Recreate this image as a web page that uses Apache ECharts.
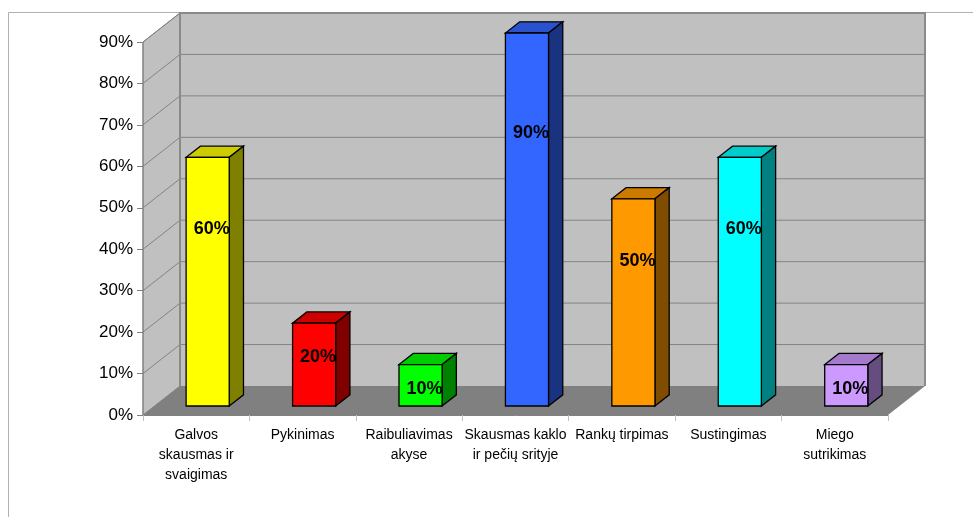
<!DOCTYPE html>
<html>
<head>
<meta charset="utf-8">
<script src="https://cdn.jsdelivr.net/npm/echarts@6/dist/echarts.min.js"></script>
<style>
  html, body { margin: 0; padding: 0; background: #fff; }
  #chart { width: 973px; height: 517px; }
</style>
</head>
<body>
<div id="chart"></div>
<script>
// Symptom names shown under the floor of the 3D column chart
const categories = [
  'Galvos\nskausmas ir\nsvaigimas',
  'Pykinimas',
  'Raibuliavimas\nakyse',
  'Skausmas kaklo\nir pečių srityje',
  'Rankų tirpimas',
  'Sustingimas',
  'Miego\nsutrikimas'
];
// Share of respondents, percent
const values = [60, 20, 10, 90, 50, 60, 10];

// Face colours of each column: front, top, right side
const frontColors = ['#ffff00', '#ff0000', '#00ff00', '#3366ff', '#ff9900', '#00ffff', '#cc99ff'];
const topColors   = ['#cccc00', '#cc0000', '#00cc00', '#2952cc', '#cc7a00', '#00cccc', '#a37acc'];
const sideColors  = ['#808000', '#800000', '#008000', '#1a3380', '#804d00', '#008080', '#664d80'];

// Value axis
const yMax = 90;
const yStep = 10;

// Oblique projection of the depth axis (pixels for full depth)
const DX = 37;
const DY = -29;
const FRONT = 0.31;   // where the column front sits inside the depth
const DEPTH = 0.385;  // column depth as a share of the full depth
const FONT = 'Liberation Sans, Arial, sans-serif';

const chart = echarts.init(document.getElementById('chart'));

function renderFrame(params, api) {
  const cs = params.coordSys;
  const L = cs.x, R = cs.x + cs.width;
  const yTop = cs.y, yBot = cs.y + cs.height;
  const children = [];
  // left side wall
  children.push({
    type: 'polygon',
    shape: { points: [[L, yTop], [L + DX, yTop + DY], [L + DX, yBot + DY], [L, yBot]] },
    style: { fill: '#c0c0c0', stroke: '#808080', lineWidth: 1 }
  });
  // back wall
  children.push({
    type: 'rect',
    shape: { x: L + DX, y: yTop + DY, width: R - L, height: yBot - yTop },
    style: { fill: '#c0c0c0', stroke: null }
  });
  // floor
  children.push({
    type: 'polygon',
    shape: { points: [[L, yBot], [R, yBot], [R + DX, yBot + DY], [L + DX, yBot + DY]] },
    style: { fill: '#808080', stroke: null }
  });
  // gridlines on the side wall and the back wall
  for (let v = yStep; v <= yMax; v += yStep) {
    const y = api.coord([0, v])[1];
    children.push({
      type: 'line',
      shape: { x1: L, y1: y, x2: L + DX, y2: y + DY },
      style: { stroke: '#848484', lineWidth: 1 }
    });
    children.push({
      type: 'line',
      shape: { x1: L + DX, y1: y + DY, x2: R + DX, y2: y + DY },
      style: { stroke: '#848484', lineWidth: 1 }
    });
  }
  // wall edges
  children.push({
    type: 'polyline',
    shape: { points: [[L + DX, yBot + DY], [L + DX, yTop + DY], [R + DX, yTop + DY], [R + DX, yBot + DY]] },
    style: { stroke: '#8a8a8a', lineWidth: 2, fill: null }
  });
  children.push({
    type: 'line',
    shape: { x1: L, y1: yBot, x2: L, y2: yTop },
    style: { stroke: '#808080', lineWidth: 1 }
  });
  return { type: 'group', children: children };
}

function renderBar(params, api) {
  const i = api.value(0);
  const v = api.value(1);
  const bw = api.size([1, 0])[0];
  const top = api.coord([i, v]);
  const base = api.coord([i, 0]);
  const w = bw * 0.405;
  const fx = DX * FRONT, fy = DY * FRONT;
  const bx = DX * DEPTH, by = DY * DEPTH;
  const x0 = top[0] + fx - w / 2, x1 = x0 + w;
  const yt = top[1] + fy, yb = base[1] + fy;
  // value label sits a little below the middle-upper part of the column
  const lab = api.coord([i, v * 0.77 - 3.5]);
  const edge = { stroke: '#000', lineWidth: 1.3, lineJoin: 'miter' };
  return {
    type: 'group',
    children: [
      {
        type: 'polygon',
        shape: { points: [[x0, yt], [x1, yt], [x1 + bx, yt + by], [x0 + bx, yt + by]] },
        style: Object.assign({ fill: topColors[i] }, edge)
      },
      {
        type: 'polygon',
        shape: { points: [[x1, yt], [x1 + bx, yt + by], [x1 + bx, yb + by], [x1, yb]] },
        style: Object.assign({ fill: sideColors[i] }, edge)
      },
      {
        type: 'rect',
        shape: { x: x0, y: yt, width: w, height: yb - yt },
        style: Object.assign({ fill: frontColors[i] }, edge)
      },
      {
        type: 'text',
        style: {
          text: v + '%',
          x: x0 + w / 2 + 4,
          y: lab[1] + fy,
          align: 'center',
          verticalAlign: 'middle',
          font: 'bold 18px ' + FONT,
          fill: '#000'
        }
      }
    ]
  };
}

chart.setOption({
  animation: false,
  backgroundColor: '#ffffff',
  graphic: [{
    type: 'rect',
    left: 6, top: 10,
    shape: { width: 990, height: 520 },
    style: { fill: null, stroke: '#b0b0b0', lineWidth: 1 },
    z: -10
  }],
  grid: { left: 143, right: 85, top: 42, bottom: 102, containLabel: false },
  xAxis: {
    type: 'category',
    data: categories,
    boundaryGap: true,
    axisLine: { show: true, lineStyle: { color: '#808080' } },
    axisTick: { show: true, length: 6, alignWithLabel: false, lineStyle: { color: '#c0c0c0' } },
    axisLabel: {
      interval: 0,
      margin: 10,
      fontSize: 14,
      lineHeight: 20,
      color: '#000',
      fontFamily: FONT
    },
    splitLine: { show: false }
  },
  yAxis: {
    type: 'value',
    min: 0,
    max: yMax,
    interval: yStep,
    axisLine: { show: true, lineStyle: { color: '#808080' } },
    axisTick: { show: true, length: 6, lineStyle: { color: '#808080' } },
    axisLabel: {
      formatter: '{value}%',
      margin: 10,
      fontSize: 17,
      color: '#000',
      fontFamily: FONT
    },
    splitLine: { show: false }
  },
  series: [
    {
      type: 'custom',
      name: 'frame',
      coordinateSystem: 'cartesian2d',
      renderItem: renderFrame,
      data: [[0, 0]],
      clip: false,
      silent: true,
      z: 1
    },
    {
      type: 'custom',
      name: 'columns',
      coordinateSystem: 'cartesian2d',
      renderItem: renderBar,
      data: values.map((v, i) => [i, v]),
      clip: false,
      z: 3
    }
  ]
});
</script>
</body>
</html>
